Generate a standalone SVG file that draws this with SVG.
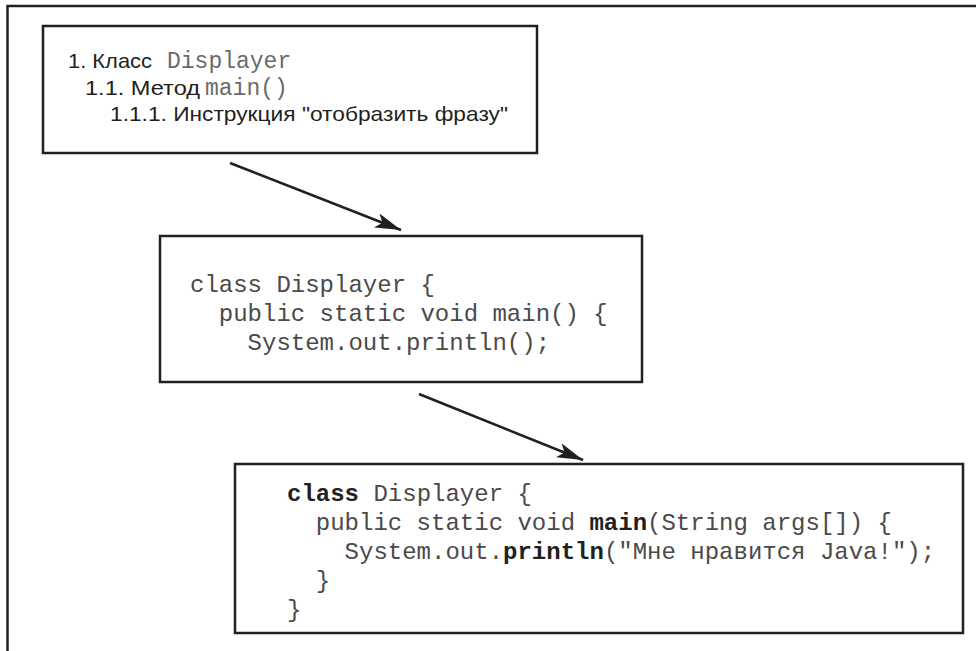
<svg xmlns="http://www.w3.org/2000/svg" width="976" height="651" viewBox="0 0 976 651">
<defs>
<style>
.frame{fill:none;stroke:#231f20;stroke-width:2.5}
.box{fill:#fff;stroke:#231f20;stroke-width:2.5}
.sans{font-family:"Liberation Sans",Arial,sans-serif;font-size:21px;fill:#231f20}
.mono{font-family:"Liberation Mono","Courier New",monospace;font-size:24px;fill:#4a4a4a}
.lite{font-family:"Liberation Mono","Courier New",monospace;font-size:23px;fill:#6a6a6a}
.b{font-weight:bold;fill:#231f20}
.conn{fill:none;stroke:#231f20;stroke-width:2.5}
</style>
<marker id="ah" markerUnits="userSpaceOnUse" markerWidth="30" markerHeight="16" refX="26" refY="7.5" orient="auto">
<path d="M0,0 L26,7.5 L0,15 L6,7.5 z" fill="#231f20"/>
</marker>
</defs>
<rect width="976" height="651" fill="#fff"/>
<path class="frame" d="M7.5,651 L7.5,6 L976,6"/>
<g id="node-plan">
<rect class="box" x="43" y="26" width="494" height="127"/>
<text class="sans" x="68" y="68" textLength="84" lengthAdjust="spacingAndGlyphs">1. Класс</text>
<text class="lite" x="167" y="68">Displayer</text>
<text class="sans" x="85" y="95" textLength="115" lengthAdjust="spacingAndGlyphs">1.1. Метод</text>
<text class="lite" x="205" y="95">main()</text>
<text class="sans" x="110" y="121" textLength="398" lengthAdjust="spacingAndGlyphs">1.1.1. Инструкция "отобразить фразу"</text>
</g>
<g id="node-skeleton">
<rect class="box" x="160" y="236" width="482" height="146"/>
<text class="mono" x="190" y="292" xml:space="preserve">class Displayer {</text>
<text class="mono" x="190" y="321" xml:space="preserve">  public static void main() {</text>
<text class="mono" x="190" y="350" xml:space="preserve">    System.out.println();</text>
</g>
<g id="node-code">
<rect class="box" x="235" y="464" width="728" height="169"/>
<text class="mono" x="287" y="501" xml:space="preserve"><tspan class="b">class</tspan> Displayer {</text>
<text class="mono" x="287" y="530" xml:space="preserve">  public static void <tspan class="b">main</tspan>(String args[]) {</text>
<text class="mono" x="287" y="559" xml:space="preserve">    System.out.<tspan class="b">println</tspan>("Мне нравится Java!");</text>
<text class="mono" x="287" y="588" xml:space="preserve">  }</text>
<text class="mono" x="287" y="617" xml:space="preserve">}</text>
</g>
<g id="connectors">
<line class="conn" x1="230" y1="163" x2="401" y2="230" marker-end="url(#ah)"/>
<line class="conn" x1="419" y1="394" x2="583" y2="460" marker-end="url(#ah)"/>
</g>
</svg>
